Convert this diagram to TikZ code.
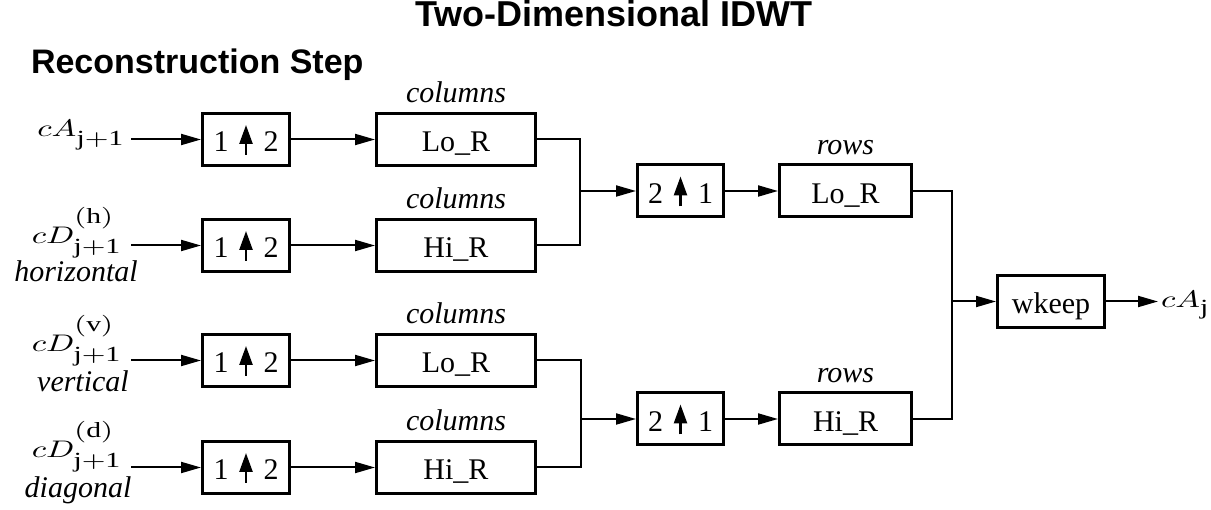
\documentclass[tikz,border=0pt]{standalone}
\usepackage{graphicx}
\usepackage{fontspec}
\setmainfont{Liberation Serif}
\newfontfamily\headfont{Liberation Sans}
\usetikzlibrary{arrows.meta,positioning}
\DeclareMathSizes{10}{10}{9}{7}

% the small arrow inside the upsampling boxes
\newcommand{\uparr}{\tikz[baseline=0pt]\draw[line width=2.5pt,-{Triangle[length=19pt,width=13pt]}] (0pt,-3pt) -- (0pt,27pt);}
% large math labels
\newcommand{\bigmath}[1]{\scalebox{3.3}[2.4]{$#1$}}
\newcommand{\coefD}[1]{\bigmath{cD^{\raisebox{5pt}{$\scriptstyle\mathrm{(#1)}$}}_{\mathrm{j+1}}}}

\begin{document}
\begin{tikzpicture}[x=1pt, y=-1pt, line width=2pt, >={Triangle[length=20pt,width=11pt]},
    box/.style={draw, line width=3pt, inner sep=0pt, minimum height=52pt,
      text height=25pt, text depth=0pt, font=\fontsize{30}{36}\selectfont},
    upbox/.style={box, minimum width=87pt},
    colbox/.style={box, minimum width=159pt},
    rowbox/.style={box, minimum width=132pt},
    src/.style={inner xsep=8pt, inner ysep=0pt, font=\fontsize{10}{12}\selectfont},
    lbl/.style={inner sep=0pt, font=\fontsize{30}{36}\selectfont\itshape},
    head/.style={inner sep=0pt, anchor=base}]
    \useasboundingbox (0,0) rectangle (1211,510);

    % Titles
    \node[head, font=\headfont\bfseries\fontsize{36}{40}\selectfont] (title) at (614,27) {Two-Dimensional IDWT};
    \node[head, anchor=base west, font=\headfont\bfseries\fontsize{34}{40}\selectfont] (step) at (30,74) {Reconstruction Step};

    % Inputs
    \node[src, inner xsep=5pt, anchor=base east] (srcA) at (131,137) {\bigmath{cA_{\raisebox{-2pt}{$\scriptstyle\mathrm{j+1}$}}}};
    \node[src, anchor=base east] (srcH) at (131,244) {\coefD{h}};
    \node[src, anchor=base east] (srcV) at (131,352) {\coefD{v}};
    \node[src, anchor=base east] (srcD) at (131,458) {\coefD{d}};
    \node[lbl, anchor=base] (nameH) at (76,282) {horizontal};
    \node[lbl, anchor=base] (nameV) at (83,392) {vertical};
    \node[lbl, anchor=base] (nameD) at (78,498) {diagonal};

    % Upsample columns
    \node[upbox] (upA) at (246,139.5) {1\hspace{11pt}\uparr\hspace{11pt}2};
    \node[upbox] (upH) at (246,245.5) {1\hspace{11pt}\uparr\hspace{11pt}2};
    \node[upbox] (upV) at (246,360.5) {1\hspace{11pt}\uparr\hspace{11pt}2};
    \node[upbox] (upD) at (246,467.5) {1\hspace{11pt}\uparr\hspace{11pt}2};

    % Filters on columns
    \node[colbox] (cLoA) at (456,139.5) {Lo\_R};
    \node[colbox] (cHiA) at (456,245.5) {Hi\_R};
    \node[colbox] (cLoB) at (456,360.5) {Lo\_R};
    \node[colbox] (cHiB) at (456,467.5) {Hi\_R};
    \node[lbl, above=8pt of cLoA] (tLoA) {columns};
    \node[lbl, above=8pt of cHiA] (tHiA) {columns};
    \node[lbl, above=8pt of cLoB] (tLoB) {columns};
    \node[lbl, above=8pt of cHiB] (tHiB) {columns};

    % Upsample rows
    \node[upbox, minimum width=86pt] (dnA) at (680.5,191) {2\hspace{11pt}\uparr\hspace{11pt}1};
    \node[upbox, minimum width=86pt] (dnB) at (680.5,419) {2\hspace{11pt}\uparr\hspace{11pt}1};

    % Filters on rows
    \node[rowbox] (rLo) at (845.5,191) {Lo\_R};
    \node[rowbox] (rHi) at (845.5,419) {Hi\_R};
    \node[lbl, above=8pt of rLo] (tLo) {rows};
    \node[lbl, above=8pt of rHi] (tHi) {rows};

    % Output
    \node[box, minimum width=107pt] (wk) at (1051,301.5) {wkeep};
    \node[src, inner xsep=2pt, anchor=base west] (outA) at (1158,308) {\bigmath{cA_{\mathrm{j}}}};

    % Junctions
    \coordinate (jA) at (580,191);
    \coordinate (jB) at (581,419);
    \coordinate (jR) at (952,301.5);

    % Connections
    \foreach \n in {A,H,V,D}
      \draw[->] (up\n.west -| src\n.east) -- (up\n.west);
    \draw[->] (upA) -- (cLoA);
    \draw[->] (upH) -- (cHiA);
    \draw[->] (upV) -- (cLoB);
    \draw[->] (upD) -- (cHiB);
    \draw (cLoA.east) -| (jA) |- (cHiA.east);
    \draw (cLoB.east) -| (jB) |- (cHiB.east);
    \draw[->] (jA) -- (dnA.west);
    \draw[->] (jB) -- (dnB.west);
    \draw[->] (dnA) -- (rLo);
    \draw[->] (dnB) -- (rHi);
    \draw (rLo.east) -| (jR) |- (rHi.east);
    \draw[->] (jR) -- (wk.west);
    \draw[->] (wk.east) -- (wk.east -| outA.west);
\end{tikzpicture}
\end{document}
